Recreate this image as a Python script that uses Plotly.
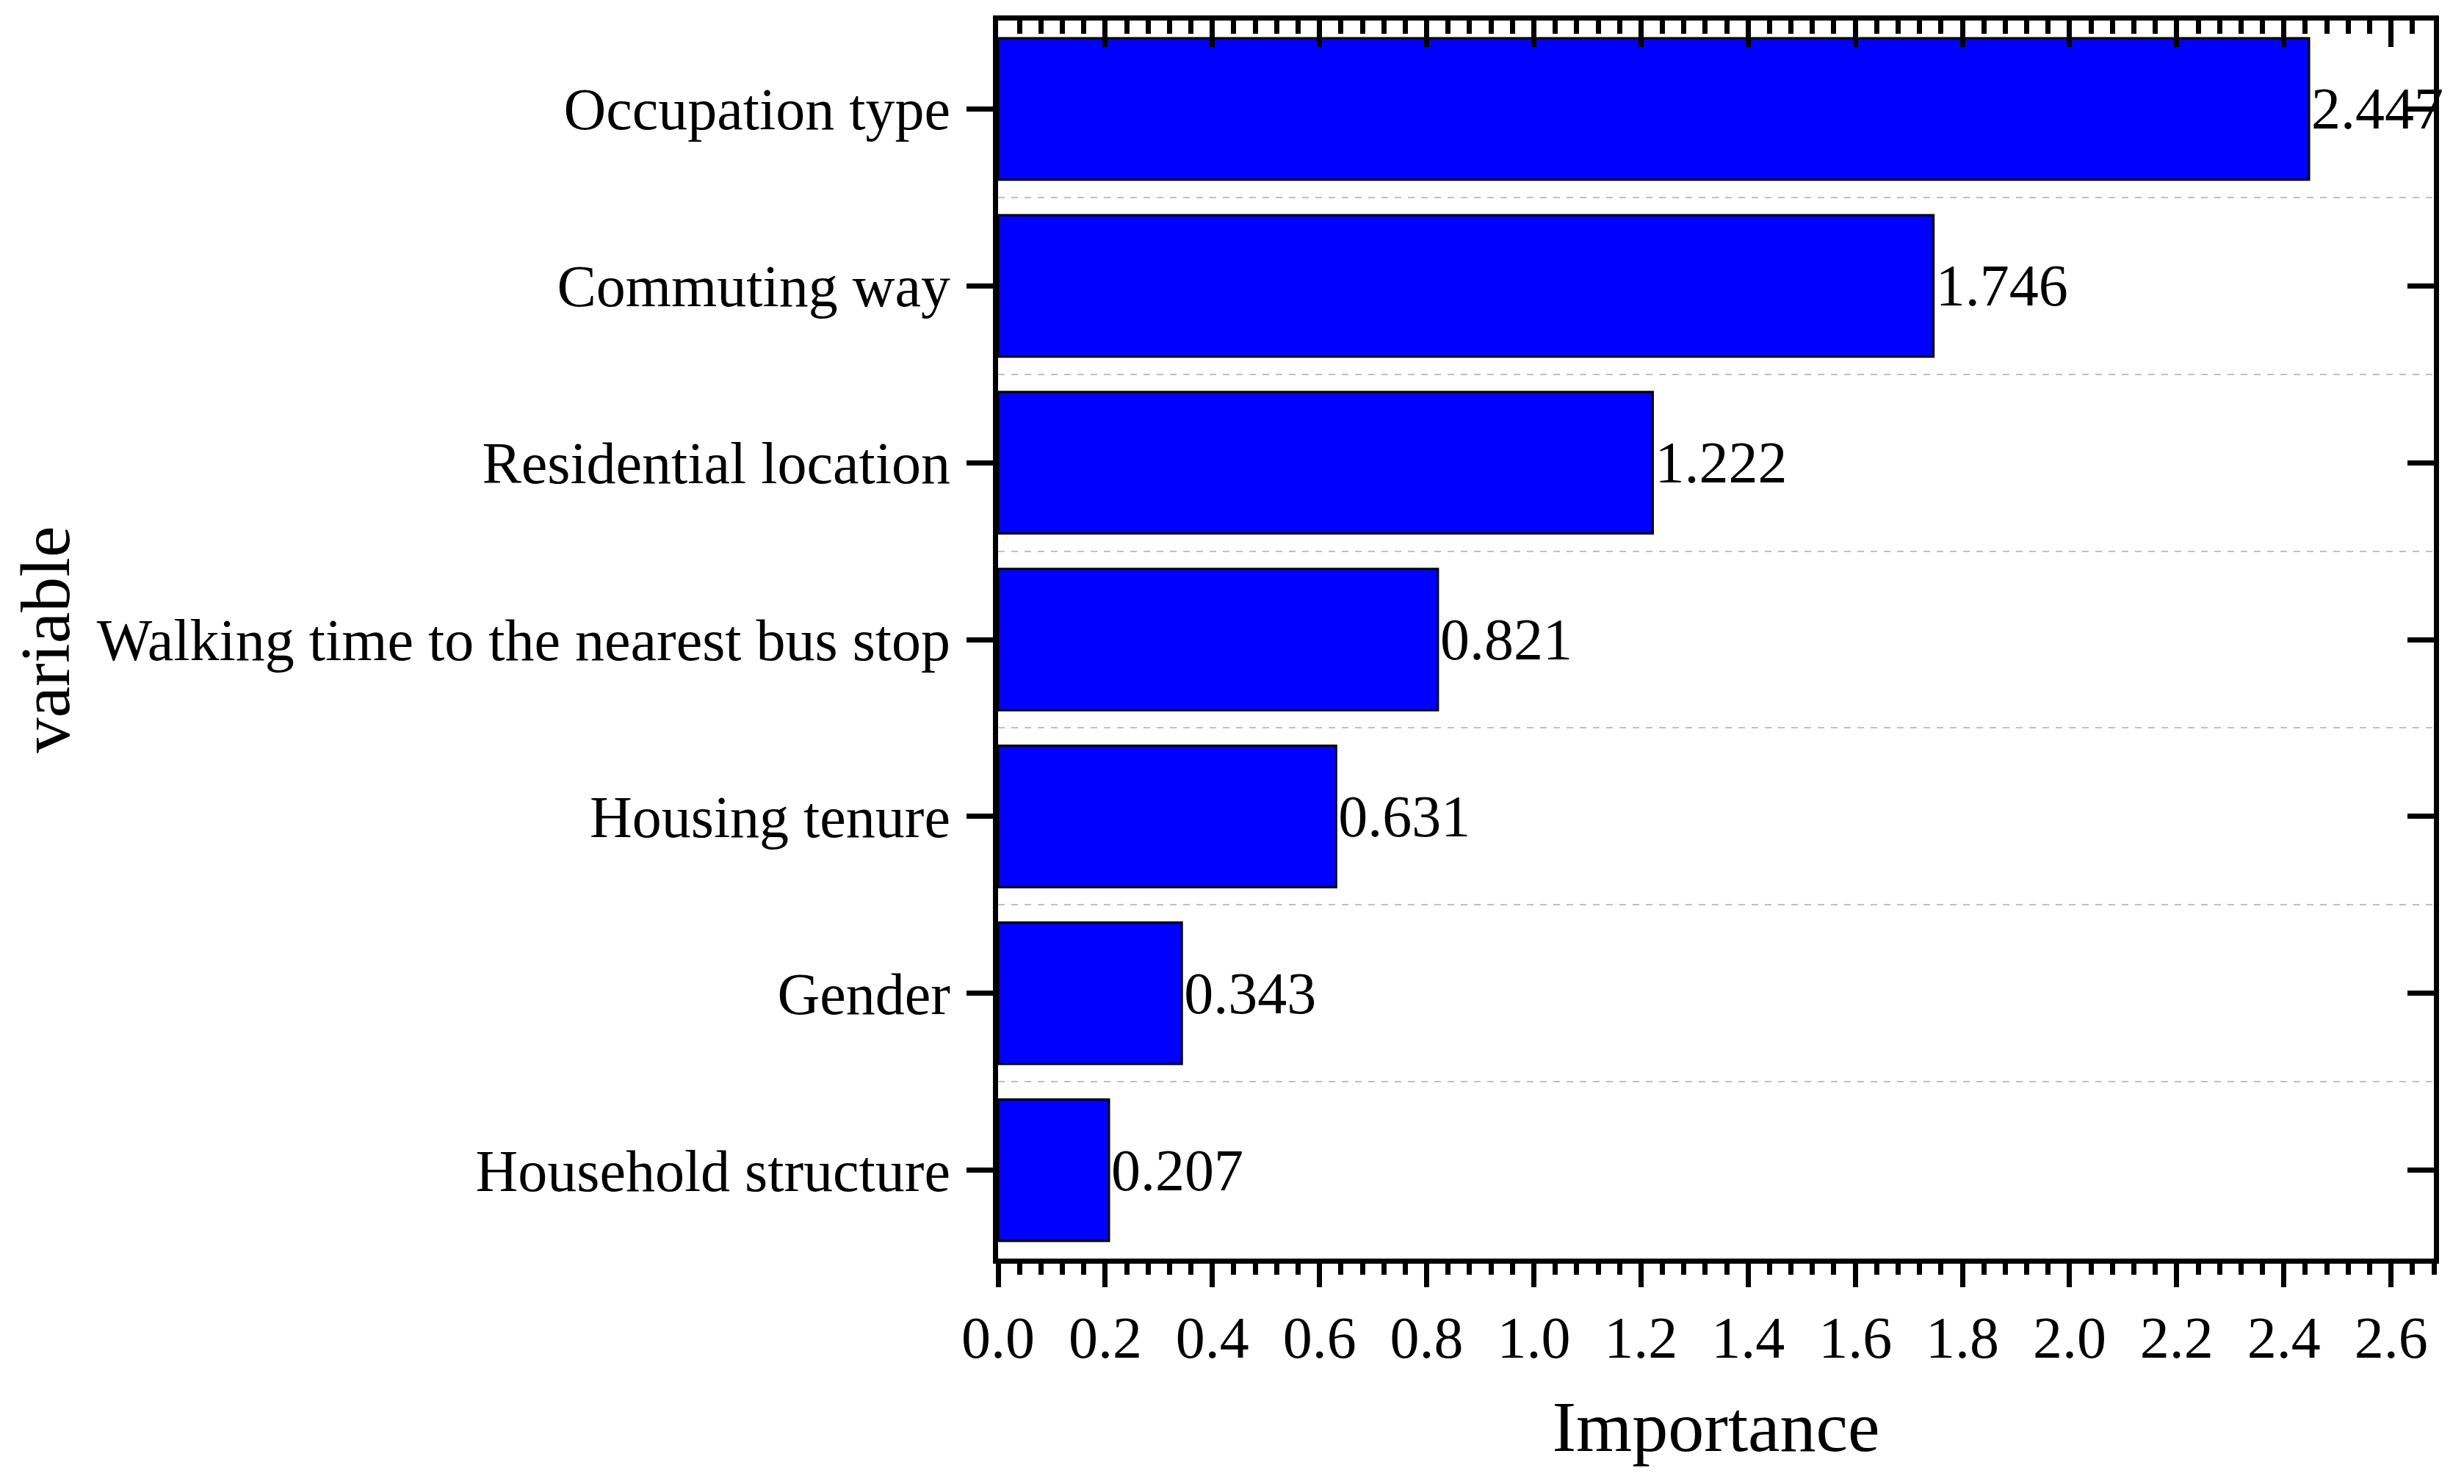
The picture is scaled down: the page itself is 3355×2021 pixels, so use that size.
import plotly.graph_objects as go

# Data (top to bottom as shown in the chart)
variables = [
    "Occupation type",
    "Commuting way",
    "Residential location",
    "Walking time to the nearest bus stop",
    "Housing tenure",
    "Gender",
    "Household structure",
]
importance = [2.447, 1.746, 1.222, 0.821, 0.631, 0.343, 0.207]

x_tick_vals = [0.0, 0.2, 0.4, 0.6, 0.8, 1.0, 1.2, 1.4, 1.6, 1.8, 2.0, 2.2, 2.4, 2.6]
x_tick_text = ["0.0", "0.2", "0.4", "0.6", "0.8", "1.0", "1.2", "1.4", "1.6", "1.8",
               "2.0", "2.2", "2.4", "2.6"]

# plot bottom-to-top
cats = variables[::-1]
vals = importance[::-1]
n = len(cats)

SERIF = "Liberation Serif, Times New Roman, serif"
XMAX = 2.68
LW = 7
TW = 7

fig = go.Figure()
fig.add_trace(go.Bar(
    x=vals,
    y=cats,
    orientation="h",
    marker=dict(color="#0000FF", line=dict(color="black", width=3)),
    width=0.8,
    text=[f"{v:.3f}" for v in vals],
    textposition="outside",
    textfont=dict(family=SERIF, size=80, color="black"),
    constraintext="none",
    cliponaxis=False,
    showlegend=False,
))
# empty helper trace so the overlay (top / right) axes get drawn
fig.add_trace(go.Scatter(
    x=[None], y=[None], xaxis="x2", yaxis="y2", mode="markers",
    showlegend=False, hoverinfo="skip",
))

fig.update_layout(
    width=3347,
    height=2013,
    margin=dict(l=1351, r=41, t=20, b=307, autoexpand=False),
    paper_bgcolor="white",
    plot_bgcolor="white",
    font=dict(family=SERIF, color="black"),
    xaxis=dict(
        range=[0, XMAX],
        tickmode="array",
        tickvals=x_tick_vals,
        ticktext=x_tick_text,
        ticks="outside",
        ticklen=32,
        tickwidth=TW,
        tickcolor="black",
        minor=dict(dtick=0.04, tick0=0, ticks="outside", ticklen=15, tickwidth=TW,
                   tickcolor="black", showgrid=False),
        showline=True,
        linewidth=LW,
        linecolor="black",
        mirror=True,
        showgrid=False,
        zeroline=False,
        tickfont=dict(family=SERIF, size=80, color="black"),
        ticklabelstandoff=0,
        title=dict(text="Importance", font=dict(family=SERIF, size=98, color="black"),
                   standoff=45),
    ),
    xaxis2=dict(
        overlaying="x",
        side="top",
        anchor="y",
        range=[0, XMAX],
        tickmode="array",
        tickvals=x_tick_vals,
        ticks="inside",
        ticklen=36,
        tickwidth=TW,
        tickcolor="black",
        minor=dict(dtick=0.04, tick0=0, ticks="inside", ticklen=18, tickwidth=TW,
                   tickcolor="black", showgrid=False),
        showticklabels=False,
        showline=False,
        showgrid=False,
        zeroline=False,
    ),
    yaxis=dict(
        type="category",
        categoryorder="array",
        categoryarray=cats,
        range=[-0.5, n - 0.5],
        ticks="outside",
        ticklen=36,
        tickwidth=TW,
        tickcolor="black",
        showline=True,
        linewidth=LW,
        linecolor="black",
        mirror=True,
        showgrid=False,
        zeroline=False,
        tickfont=dict(family=SERIF, size=80, color="black"),
        ticklabelstandoff=6,
        title=dict(text="variable", font=dict(family=SERIF, size=96, color="black"),
                   standoff=26),
    ),
    yaxis2=dict(
        overlaying="y",
        side="right",
        anchor="x",
        range=[-0.5, n - 0.5],
        tickmode="array",
        tickvals=list(range(n)),
        ticks="inside",
        ticklen=36,
        tickwidth=TW,
        tickcolor="black",
        showticklabels=False,
        showline=False,
        showgrid=False,
        zeroline=False,
        minor=dict(tickmode="array", tickvals=[i + 0.5 for i in range(n - 1)],
                   ticks="", showgrid=True, gridcolor="#c0c0c0", gridwidth=2,
                   griddash="dash"),
    ),
)

fig.write_html("out.html")
